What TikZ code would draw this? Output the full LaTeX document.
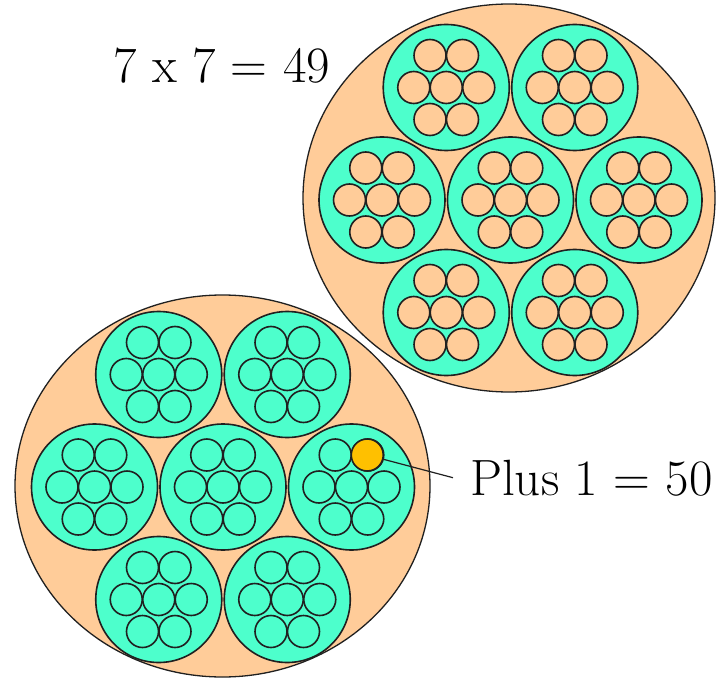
\documentclass[tikz,border=0pt]{standalone}
\definecolor{peach}{HTML}{FFCC99}
\definecolor{teal2}{HTML}{4DFFCC}
\definecolor{dotc}{HTML}{FFC000}
\definecolor{edge}{HTML}{202020}
\tikzset{
  outer/.style={draw=edge, line width=1.3pt, fill=peach},
  grp/.style={draw=edge, line width=1.6pt, fill=teal2},
  wire/.style={draw=edge, line width=1.6pt},
  lead/.style={draw=edge, line width=1.2pt},
  lbl/.style={font=\rmfamily\fontsize{51}{60}\selectfont, inner sep=0pt, anchor=base west},
  dotstyle/.style={circle, draw=edge, line width=1.6pt, fill=dotc, minimum size=32pt, inner sep=0pt},
}
\newcommand\mygroup[3]{%
  \draw[grp] (#1,#2) circle[radius=63];
  \foreach \dx/\dy in {-16.25/-32,16.25/-32,-32.5/0,0/0,32.5/0,-16.25/32,16.25/32}
    \draw[wire, fill=#3] ({#1+\dx},{#2+\dy}) circle[radius=16];
}
\newcommand\mycable[3]{%
  \mygroup{#1-64.25}{#2-112.5}{#3}
  \mygroup{#1+64.25}{#2-112.5}{#3}
  \mygroup{#1-128.5}{#2}{#3}
  \mygroup{#1}{#2}{#3}
  \mygroup{#1+128.5}{#2}{#3}
  \mygroup{#1-64.25}{#2+112.5}{#3}
  \mygroup{#1+64.25}{#2+112.5}{#3}
}
\begin{document}
\begin{tikzpicture}[x=1pt,y=-1pt]
  \useasboundingbox (0,0) rectangle (717,679);
  % top-right cable
  \draw[outer] (509,198) ellipse[x radius=206, y radius=194];
  \mycable{510.5}{200}{peach}
  % bottom-left cable
  \draw[outer] (222.5,486) ellipse[x radius=207.5, y radius=191];
  \mycable{223}{487}{teal2}
  % extra conductor
  \node[dotstyle] (dot) at (367.25,455) {};
  % labels
  \node[lbl] (mult) at (113,83) {7 x 7 = 49};
  \node[lbl] (plus) at (470,495) {Plus 1 = 50};
  \coordinate (lend) at ([xshift=-17pt]plus.west);
  \draw[lead] (dot) -- (lend);
\end{tikzpicture}
\end{document}
